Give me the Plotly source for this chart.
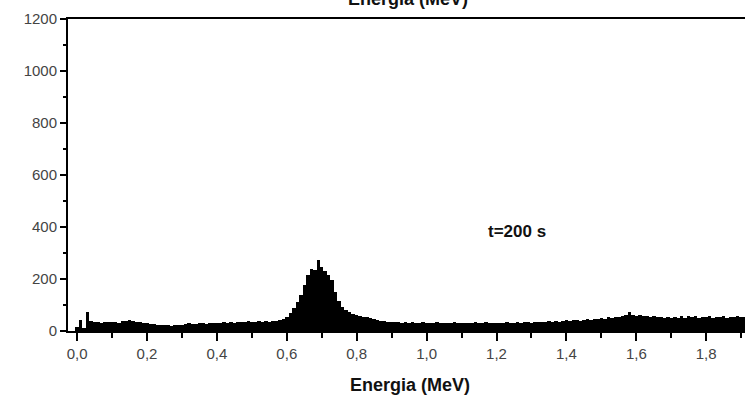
import plotly.graph_objects as go

# Spectrum counts per 0.01 MeV bin, starting at 0.00 MeV
counts = [
    15, 42, 12, 72, 38, 33, 35, 32, 34, 36,      # 0.00-0.09
    33, 35, 31, 37, 40, 42, 38, 36, 33, 31,      # 0.10-0.19
    30, 27, 28, 25, 24, 22, 23, 21, 24, 22,      # 0.20-0.29
    25, 27, 30, 28, 26, 29, 31, 28, 30, 32,      # 0.30-0.39
    29, 31, 33, 30, 34, 32, 35, 33, 36, 38,      # 0.40-0.49
    35, 34, 37, 36, 39, 36, 38, 40, 42, 47,      # 0.50-0.59
    55, 70, 88, 110, 140, 178, 215, 240, 236, 272,  # 0.60-0.69
    245, 232, 215, 195, 150, 115, 92, 80, 72, 66,   # 0.70-0.79
    62, 58, 55, 52, 49, 46, 43, 40, 38, 36,      # 0.80-0.89
    35, 33, 34, 32, 33, 31, 34, 32, 30, 33,      # 0.90-0.99
    31, 32, 30, 33, 31, 29, 32, 30, 33, 31,      # 1.00-1.09
    30, 32, 29, 31, 33, 30, 32, 34, 31, 30,      # 1.10-1.19
    32, 29, 31, 33, 30, 32, 34, 31, 33, 35,      # 1.20-1.29
    32, 34, 36, 33, 35, 37, 34, 38, 36, 40,      # 1.30-1.39
    42, 38, 41, 44, 40, 43, 46, 44, 48, 47,      # 1.40-1.49
    50, 48, 53, 51, 55, 53, 57, 60, 72, 62,      # 1.50-1.59
    58, 60, 56, 58, 54, 56, 52, 54, 50, 53,      # 1.60-1.69
    49, 55, 51, 58, 50, 56, 52, 57, 49, 54,      # 1.70-1.79
    52, 56, 50, 55, 53, 57, 51, 55, 52, 56,      # 1.80-1.89
    54, 55, 53,                                  # 1.90-1.92
]
bin_width = 0.01
energy = [round(i * bin_width, 2) for i in range(len(counts))]

x_tickvals = [0.0, 0.2, 0.4, 0.6, 0.8, 1.0, 1.2, 1.4, 1.6, 1.8]
x_ticktext = ["0,0", "0,2", "0,4", "0,6", "0,8", "1,0", "1,2", "1,4", "1,6", "1,8"]
y_tickvals = [0, 200, 400, 600, 800, 1000, 1200]

x_title = "Energia (MeV)"
label_text = "t=200 s"
next_panel_tick = "1200"

W, H = 745, 398
L, T, B, R = 68, 19, 67, 0
plot_h = H - T - B

def py(pix):
    # pixel row -> paper y
    return (H - B - pix) / plot_h

def px(pix):
    return (pix - L) / (W - L - R)

fig = go.Figure()
fig.add_trace(go.Bar(
    x=energy, y=counts, width=bin_width,
    marker=dict(color="black", line=dict(width=0)),
    showlegend=False,
))

font_family = "Liberation Sans, Arial, sans-serif"

fig.update_layout(
    width=W, height=H,
    margin=dict(l=L, r=R, t=T, b=B, pad=0),
    paper_bgcolor="white", plot_bgcolor="white",
    bargap=0,
    font=dict(family=font_family, color="#333333", size=15),
    xaxis=dict(
        range=[-0.026, 1.911],
        tickvals=x_tickvals, ticktext=x_ticktext,
        ticks="outside", ticklen=8, tickwidth=2, tickcolor="black",
        showline=True, linecolor="black", linewidth=2, mirror=True,
        showgrid=False, zeroline=False,
        tickfont=dict(size=15, color="#444444"),
        minor=dict(dtick=0.1, tick0=0, ticks="outside", ticklen=5, tickwidth=2, tickcolor="black"),
    ),
    yaxis=dict(
        range=[0, 1200],
        tickvals=y_tickvals,
        ticks="outside", ticklen=6, tickwidth=2, tickcolor="black",
        showline=True, linecolor="black", linewidth=2,
        showgrid=False, zeroline=False,
        tickfont=dict(size=15, color="#444444"),
        minor=dict(dtick=100, tick0=0, ticks="outside", ticklen=3, tickwidth=2, tickcolor="black"),
    ),
)

annotations = [
    dict(text=f"<b>{x_title}</b>", xref="paper", yref="paper",
         x=px(410), y=py(385), xanchor="center", yanchor="middle",
         showarrow=False, font=dict(size=18, color="#111111", family=font_family)),
    dict(text=f"<b>{x_title}</b>", xref="paper", yref="paper",
         x=px(408), y=py(-1), xanchor="center", yanchor="middle",
         showarrow=False, font=dict(size=18, color="#111111", family=font_family)),
    dict(text=f"<b>{label_text}</b>", xref="paper", yref="paper",
         x=px(517), y=py(231.5), xanchor="center", yanchor="middle",
         showarrow=False, font=dict(size=17, color="#111111", family=font_family)),
    dict(text=next_panel_tick, xref="paper", yref="paper",
         x=px(54), y=py(403), xanchor="right", yanchor="middle",
         showarrow=False, font=dict(size=15, color="#444444", family=font_family)),
]
fig.update_layout(annotations=annotations)

fig.write_html("out.html")
